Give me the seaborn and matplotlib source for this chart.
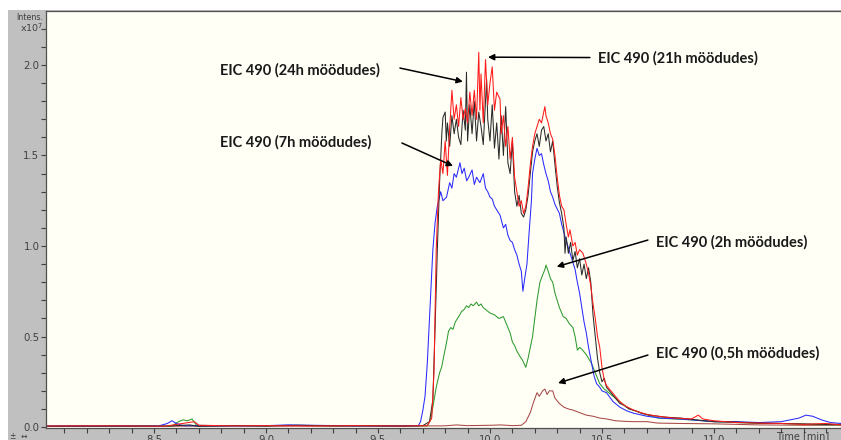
import matplotlib
matplotlib.use("Agg")
import matplotlib.pyplot as plt
import seaborn as sns
import pandas as pd
from matplotlib.patches import Rectangle
from matplotlib.ticker import MultipleLocator, FormatStrFormatter, FixedLocator

# ---------------- data (time in min, intensity in 1e7) ----------------
t_24h = [8.02, 8.30, 8.55, 8.66, 8.70, 8.85, 9.0, 9.15, 9.3, 9.45, 9.6, 9.70, 9.73, 9.745, 9.755, 9.765,
         9.775, 9.785, 9.79, 9.80, 9.805, 9.81, 9.82, 9.83, 9.84, 9.85, 9.86, 9.87, 9.88, 9.89, 9.895,
         9.90, 9.91, 9.92, 9.93, 9.94, 9.95, 9.96, 9.97, 9.98, 9.985, 9.99, 10.00, 10.01, 10.02, 10.03,
         10.04, 10.05, 10.06, 10.07, 10.08, 10.09, 10.10, 10.11, 10.12, 10.13, 10.14, 10.15, 10.16, 10.17,
         10.18, 10.19, 10.20, 10.21, 10.22, 10.23, 10.24, 10.25, 10.26, 10.27, 10.28, 10.29, 10.30, 10.31,
         10.32, 10.33, 10.335, 10.34, 10.35, 10.36, 10.37, 10.38, 10.39, 10.40, 10.41, 10.42, 10.43, 10.44,
         10.45, 10.46, 10.47, 10.48, 10.49, 10.50, 10.51, 10.52, 10.54, 10.56, 10.58, 10.60, 10.62, 10.65,
         10.68, 10.72, 10.78, 10.85, 10.92, 11.0, 11.1, 11.2, 11.3, 11.4, 11.5, 11.57]
i_24h = [0.005, 0.006, 0.005, 0.012, 0.004, 0.008, 0.006, 0.010, 0.007, 0.008, 0.006, 0.008, 0.03, 0.15, 0.55, 0.98,
         1.35, 1.62, 1.71, 1.74, 1.58, 1.68, 1.55, 1.72, 1.62, 1.70, 1.60, 1.56, 1.75, 1.64, 1.96,
         1.58, 1.78, 1.62, 1.80, 1.58, 1.74, 1.66, 1.56, 1.80, 1.92, 1.70, 1.58, 1.78, 1.54, 1.68,
         1.48, 1.72, 1.50, 1.77, 1.46, 1.40, 1.58, 1.30, 1.22, 1.28, 1.18, 1.16, 1.20, 1.28,
         1.40, 1.52, 1.58, 1.62, 1.55, 1.64, 1.66, 1.58, 1.62, 1.52, 1.58, 1.45, 1.33, 1.24,
         1.18, 1.10, 0.96, 1.05, 0.96, 1.02, 0.92, 0.97, 0.88, 0.93, 0.84, 0.90, 0.82, 0.88,
         0.80, 0.62, 0.50, 0.38, 0.30, 0.25, 0.27, 0.22, 0.19, 0.16, 0.13, 0.12, 0.10, 0.09,
         0.075, 0.065, 0.055, 0.05, 0.04, 0.03, 0.028, 0.022, 0.02, 0.018, 0.015, 0.015]

t_21h = [8.02, 8.3, 8.55, 8.68, 8.70, 8.85, 9.0, 9.2, 9.4, 9.6, 9.72, 9.74, 9.75, 9.76, 9.77, 9.78, 9.79,
         9.80, 9.81, 9.82, 9.83, 9.84, 9.85, 9.86, 9.87, 9.88, 9.89, 9.90, 9.91, 9.92, 9.93, 9.94, 9.95,
         9.955, 9.96, 9.97, 9.98, 9.99, 10.00, 10.01, 10.02, 10.03, 10.045, 10.05, 10.06, 10.07, 10.08,
         10.09, 10.10, 10.11, 10.12, 10.13, 10.14, 10.15, 10.16, 10.17, 10.18, 10.19, 10.20, 10.21, 10.22,
         10.23, 10.245, 10.25, 10.26, 10.27, 10.28, 10.29, 10.30, 10.31, 10.32, 10.33, 10.34, 10.35, 10.357,
         10.37, 10.38, 10.39, 10.40, 10.415, 10.43, 10.44, 10.45, 10.46, 10.47, 10.48, 10.49, 10.50, 10.51,
         10.52, 10.54, 10.56, 10.58, 10.60, 10.63, 10.66, 10.70, 10.75, 10.82, 10.90, 10.93, 10.95, 11.0,
         11.1, 11.2, 11.3, 11.4, 11.5, 11.57]
i_21h = [0.006, 0.007, 0.005, 0.03, 0.01, 0.007, 0.008, 0.006, 0.008, 0.006, 0.008, 0.05, 0.30, 0.98, 1.30, 1.48, 1.40,
         1.58, 1.39, 1.65, 1.86, 1.70, 1.78, 1.66, 1.82, 1.70, 1.76, 1.68, 1.85, 1.72, 1.86, 1.70, 2.07,
         1.75, 1.95, 1.68, 2.03, 1.78, 1.90, 1.99, 1.75, 1.85, 1.81, 1.62, 1.72, 1.55, 1.66,
         1.48, 1.60, 1.38, 1.30, 1.22, 1.25, 1.18, 1.22, 1.32, 1.45, 1.55, 1.62, 1.66, 1.70,
         1.68, 1.77, 1.72, 1.68, 1.62, 1.59, 1.50, 1.38, 1.28, 1.22, 1.20, 1.12, 1.05, 1.09,
         1.00, 1.02, 0.95, 0.98, 0.96, 0.90, 0.85, 0.78, 0.68, 0.60, 0.50, 0.44, 0.33, 0.26,
         0.23, 0.20, 0.17, 0.14, 0.12, 0.10, 0.085, 0.07, 0.06, 0.05, 0.045, 0.066, 0.045, 0.035,
         0.025, 0.022, 0.02, 0.015, 0.02, 0.012]

t_7h = [8.02, 8.3, 8.52, 8.56, 8.58, 8.60, 8.63, 8.8, 9.0, 9.1, 9.2, 9.4, 9.6, 9.68, 9.69, 9.70, 9.71, 9.72,
        9.73, 9.745, 9.755, 9.765, 9.78, 9.79, 9.806, 9.82, 9.83, 9.84, 9.85, 9.866, 9.875, 9.885, 9.896,
        9.905, 9.92, 9.93, 9.94, 9.955, 9.97, 9.98, 9.99, 10.00, 10.01, 10.02, 10.03, 10.045, 10.06, 10.07,
        10.08, 10.09, 10.10, 10.11, 10.12, 10.13, 10.14, 10.147, 10.155, 10.165, 10.175, 10.185, 10.19,
        10.20, 10.21, 10.22, 10.23, 10.24, 10.25, 10.26, 10.27, 10.28, 10.29, 10.31, 10.32, 10.34, 10.36,
        10.38, 10.39, 10.40, 10.41, 10.42, 10.43, 10.44, 10.454, 10.465, 10.476, 10.49, 10.50, 10.52, 10.55,
        10.58, 10.61, 10.64, 10.7, 10.76, 10.85, 10.95, 11.0, 11.1, 11.2, 11.3, 11.38, 11.41, 11.44, 11.48,
        11.52, 11.57]
i_7h = [0.005, 0.006, 0.006, 0.02, 0.035, 0.02, 0.008, 0.007, 0.008, 0.012, 0.010, 0.007, 0.006, 0.008, 0.03, 0.09, 0.17, 0.35,
        0.60, 0.98, 1.13, 1.22, 1.30, 1.25, 1.27, 1.35, 1.32, 1.40, 1.38, 1.46, 1.40, 1.43, 1.36,
        1.38, 1.42, 1.34, 1.38, 1.35, 1.40, 1.32, 1.30, 1.27, 1.26, 1.22, 1.20, 1.17, 1.10, 1.12,
        1.06, 1.03, 1.02, 0.98, 0.95, 0.90, 0.86, 0.75, 0.82, 0.90, 1.08, 1.25, 1.40,
        1.48, 1.54, 1.50, 1.51, 1.45, 1.40, 1.36, 1.30, 1.27, 1.23, 1.18, 1.12, 1.03, 0.95,
        0.87, 0.80, 0.74, 0.66, 0.58, 0.52, 0.44, 0.35, 0.28, 0.24, 0.22, 0.20, 0.19, 0.14,
        0.11, 0.09, 0.077, 0.06, 0.05, 0.045, 0.035, 0.03, 0.03, 0.025, 0.03, 0.05, 0.066, 0.06, 0.04,
        0.025, 0.02]

t_2h = [8.02, 8.3, 8.58, 8.61, 8.63, 8.65, 8.67, 8.69, 8.8, 9.0, 9.1, 9.2, 9.4, 9.6, 9.72, 9.735, 9.745,
        9.76, 9.775, 9.784, 9.795, 9.805, 9.815, 9.825, 9.835, 9.845, 9.855, 9.865, 9.874, 9.885, 9.895,
        9.905, 9.915, 9.925, 9.94, 9.95, 9.96, 9.97, 9.98, 9.99, 10.00, 10.02, 10.04, 10.06, 10.07, 10.08,
        10.09, 10.10, 10.11, 10.12, 10.134, 10.145, 10.16, 10.17, 10.18, 10.19, 10.20, 10.21, 10.223,
        10.235, 10.245, 10.25, 10.26, 10.27, 10.28, 10.29, 10.30, 10.31, 10.327, 10.34, 10.355, 10.37,
        10.38, 10.39, 10.40, 10.41, 10.43, 10.454, 10.47, 10.49, 10.51, 10.53, 10.55, 10.58, 10.61, 10.64,
        10.67, 10.705, 10.75, 10.82, 10.9, 11.0, 11.1, 11.2, 11.3, 11.4, 11.57]
i_2h = [0.004, 0.005, 0.006, 0.03, 0.04, 0.035, 0.045, 0.01, 0.008, 0.007, 0.010, 0.008, 0.007, 0.006, 0.007, 0.04, 0.11,
        0.22, 0.30, 0.33, 0.40, 0.46, 0.53, 0.55, 0.54, 0.58, 0.60, 0.62, 0.64, 0.65, 0.67,
        0.66, 0.68, 0.67, 0.69, 0.67, 0.68, 0.66, 0.65, 0.64, 0.63, 0.62, 0.60, 0.61, 0.58, 0.55,
        0.52, 0.47, 0.45, 0.42, 0.39, 0.37, 0.33, 0.38, 0.44, 0.50, 0.60, 0.70, 0.80,
        0.84, 0.87, 0.895, 0.86, 0.82, 0.80, 0.74, 0.70, 0.66, 0.61, 0.60, 0.57, 0.55,
        0.50, 0.425, 0.44, 0.43, 0.40, 0.35, 0.30, 0.24, 0.21, 0.19, 0.17, 0.14, 0.11, 0.094,
        0.08, 0.066, 0.05, 0.045, 0.04, 0.03, 0.025, 0.02, 0.02, 0.015, 0.012]

t_05h = [8.02, 8.3, 8.6, 8.9, 9.2, 9.5, 9.8, 9.85, 9.9, 10.0, 10.05, 10.10, 10.14, 10.16, 10.18, 10.195,
         10.21, 10.22, 10.235, 10.245, 10.255, 10.265, 10.28, 10.29, 10.31, 10.33, 10.35, 10.37, 10.40,
         10.43, 10.46, 10.49, 10.52, 10.56, 10.60, 10.64, 10.70, 10.75, 10.85, 11.0, 11.2, 11.4, 11.57]
i_05h = [0.006, 0.006, 0.005, 0.006, 0.006, 0.005, 0.007, 0.012, 0.008, 0.010, 0.012, 0.008, 0.01, 0.03, 0.08, 0.14,
         0.19, 0.17, 0.20, 0.21, 0.18, 0.20, 0.20, 0.16, 0.13, 0.11, 0.10, 0.094, 0.08,
         0.066, 0.06, 0.05, 0.045, 0.035, 0.032, 0.03, 0.03, 0.022, 0.02, 0.018, 0.012, 0.01, 0.01]

x_tick_values = [8.5, 9.0, 9.5, 10.0, 10.5, 11.0]
y_tick_values = [0.0, 0.5, 1.0, 1.5, 2.0]

labels = ["EIC 490 (24h möödudes)", "EIC 490 (21h möödudes)", "EIC 490 (7h möödudes)",
          "EIC 490 (2h möödudes)", "EIC 490 (0,5h möödudes)"]

frames = []
for name, t, v in [("0,5h", t_05h, i_05h), ("2h", t_2h, i_2h), ("7h", t_7h, i_7h),
                   ("24h", t_24h, i_24h), ("21h", t_21h, i_21h)]:
    frames.append(pd.DataFrame({"time": t, "intens": v, "series": name}))
df = pd.concat(frames, ignore_index=True)

palette = {"0,5h": "#a84848", "2h": "#2e9a2e", "7h": "#2a2aff", "24h": "#2a2a2a", "21h": "#ff1a1a"}

# ---------------- figure ----------------
sns.set_style("white")
plt.rcParams["font.family"] = ["DejaVu Sans"]
fig = plt.figure(figsize=(8.41, 4.40), dpi=100)
fig.patch.set_facecolor("white")
bg = Rectangle((8 / 841, 0), 1 - 8 / 841, (440 - 10) / 440,
               transform=fig.transFigure, facecolor="#c0c0c0", edgecolor="none", zorder=-10)
fig.patches.append(bg)
ax = fig.add_axes([46 / 841, 12 / 440, 1 - 46 / 841, (428 - 11) / 440])
ax.set_zorder(5)
ax.set_facecolor("#fffff6")

for name in ["0,5h", "2h", "7h", "24h", "21h"]:
    sub = df[df.series == name]
    sns.lineplot(data=sub, x="time", y="intens", color=palette[name], lw=0.75,
                 estimator=None, sort=False, ax=ax, legend=False)

ax.set_xlim(8.018, 11.567)
ax.set_ylim(-0.005, 2.298)
ax.set_xlabel("")
ax.set_ylabel("")

ax.xaxis.set_major_locator(FixedLocator(x_tick_values))
ax.xaxis.set_minor_locator(MultipleLocator(0.1))
ax.yaxis.set_major_locator(FixedLocator(y_tick_values))
ax.yaxis.set_minor_locator(MultipleLocator(0.1))
ax.xaxis.set_major_formatter(FormatStrFormatter("%.1f"))
ax.yaxis.set_major_formatter(FormatStrFormatter("%.1f"))
ax.tick_params(axis="both", which="both", direction="out", length=3.5, width=0.8,
               color="#404040", labelsize=7.3, labelcolor="#404040", pad=1.2)
ax.tick_params(axis="x", which="both", bottom=True)
ax.tick_params(axis="y", which="both", left=True)

for s in ["left", "bottom", "top"]:
    ax.spines[s].set_visible(True)
    ax.spines[s].set_color("#505050")
    ax.spines[s].set_linewidth(0.9)
ax.spines["right"].set_visible(False)

# axis captions
fig.text(43 / 841, 1 - 17 / 440, "Intens.", fontsize=5.8, color="#404040", ha="right", va="center")
fig.text(43 / 841, 1 - 28 / 440, r"x10$^7$", fontsize=6.8, color="#404040", ha="right", va="center")
fig.text(776 / 841, 1 - 436 / 440, "Time [min]", fontsize=7.0, color="#404040", ha="left", va="center")
fig.text(10 / 841, 1 - 436 / 440, "±  ↔", fontsize=5.5, color="#404040", ha="left", va="center")

# annotations
tfont = dict(fontsize=10.5, fontweight="bold", color="#1a1a1a", family=["Lato", "DejaVu Sans"])
arrow = dict(arrowstyle="-|>", color="black", lw=1.1, mutation_scale=9, shrinkA=0, shrinkB=0)
ann = [
    (labels[0], (9.879, 1.908), (9.598, 1.983), (8.795, 1.972)),
    (labels[1], (9.991, 2.043), (10.446, 2.041), (10.482, 2.039)),
    (labels[2], (9.835, 1.442), (9.607, 1.569), (8.795, 1.575)),
    (labels[3], (10.298, 0.886), (10.705, 1.033), (10.741, 1.022)),
    (labels[4], (10.304, 0.243), (10.705, 0.398), (10.741, 0.409)),
]
for text, tip, tail, tpos in ann:
    ax.annotate("", xy=tip, xytext=tail, arrowprops=arrow)
    ax.text(tpos[0], tpos[1], text, ha="left", va="center", **tfont)

fig.savefig("out.png", dpi=100, facecolor=fig.get_facecolor())
